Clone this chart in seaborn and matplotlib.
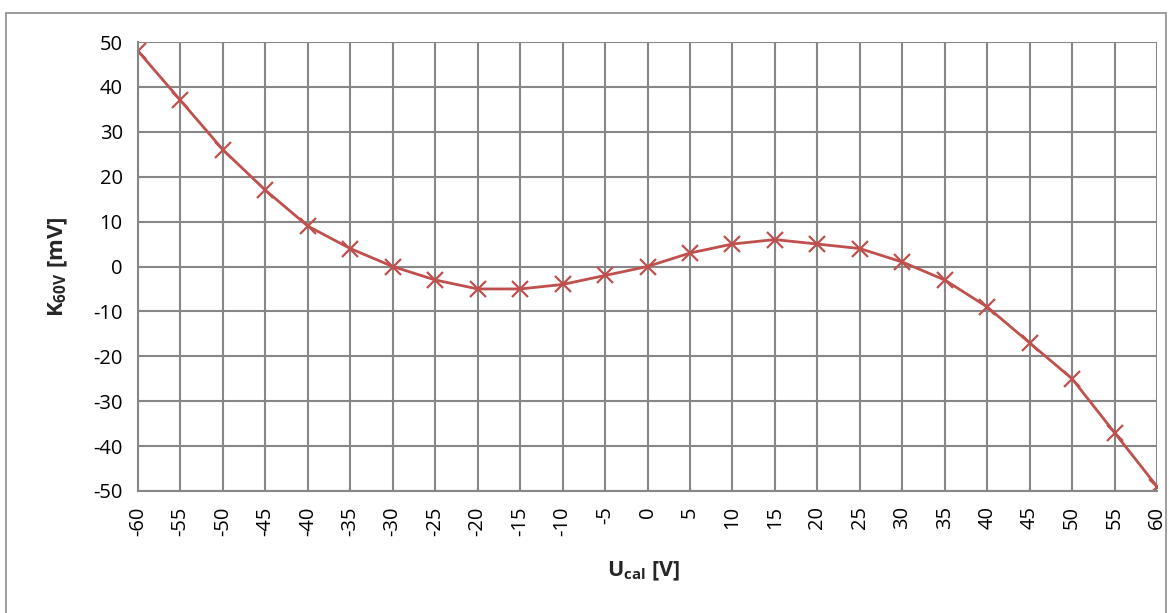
import matplotlib
matplotlib.use("Agg")
import matplotlib.pyplot as plt
import seaborn as sns
import pandas as pd
from matplotlib.patches import Rectangle

u_cal = [-60, -55, -50, -45, -40, -35, -30, -25, -20, -15, -10, -5, 0,
         5, 10, 15, 20, 25, 30, 35, 40, 45, 50, 55, 60]
k_60v = [48, 37, 26, 17, 9, 4, 0, -3, -5, -5, -4, -2, 0,
         3, 5, 6, 5, 4, 1, -3, -9, -17, -25, -37, -49]
y_ticks = [-50, -40, -30, -20, -10, 0, 10, 20, 30, 40, 50]

sns.set_theme(style="white")
plt.rcParams['font.family'] = ['Open Sans', 'DejaVu Sans']
plt.rcParams['mathtext.fontset'] = 'custom'
plt.rcParams['mathtext.rm'] = 'Open Sans'
plt.rcParams['mathtext.bf'] = 'Open Sans:bold'

df = pd.DataFrame({"u": u_cal, "k": k_60v})

fig = plt.figure(figsize=(11.69, 6.13), dpi=100)
ax = fig.add_axes([138/1169, 1 - 491/613, (1157-138)/1169, (491-42)/613])

grid_c = "#878787"
sns.lineplot(data=df, x="u", y="k", ax=ax, color="#C0504D", linewidth=2,
             marker="x", markersize=11, markeredgewidth=1.6, markeredgecolor="#C0504D")

ax.set_xlim(-60, 60)
ax.set_ylim(-50, 50)
ax.set_xticks(u_cal)
ax.set_xticklabels([str(v) for v in u_cal], rotation=90, fontsize=14.5)
ax.set_yticks(y_ticks)
ax.set_yticklabels([str(v) for v in y_ticks], fontsize=14.5)
ax.grid(True, color=grid_c, linewidth=1.5)
ax.set_axisbelow(True)
for s in ["top", "right"]:
    ax.spines[s].set_visible(False)
for s in ["left", "bottom"]:
    ax.spines[s].set_color(grid_c)
    ax.spines[s].set_linewidth(1.5)
ax.tick_params(axis="both", which="both", direction="out", length=7, width=1.5,
               color=grid_c, labelcolor="black", pad=4)

ax.set_xlabel(r"U$_{\mathbf{cal}}$ [V]", fontsize=15.5, fontweight="bold")
ax.set_ylabel(r"K$_{\mathbf{60V}}$ [mV]", fontsize=16, fontweight="bold")
ax.xaxis.label.set_va("center")
ax.yaxis.label.set_va("center")
ax.xaxis.set_label_coords(0.496, -0.18)
ax.yaxis.set_label_coords(-0.0785, 0.499)

fig.patches.append(Rectangle((6/1169, -0.01), (1166-6)/1169, 1 - 13/613 + 0.01,
                             transform=fig.transFigure, fill=False,
                             edgecolor="#8c8c8c", linewidth=1.2))

fig.savefig("out.png", dpi=100)
